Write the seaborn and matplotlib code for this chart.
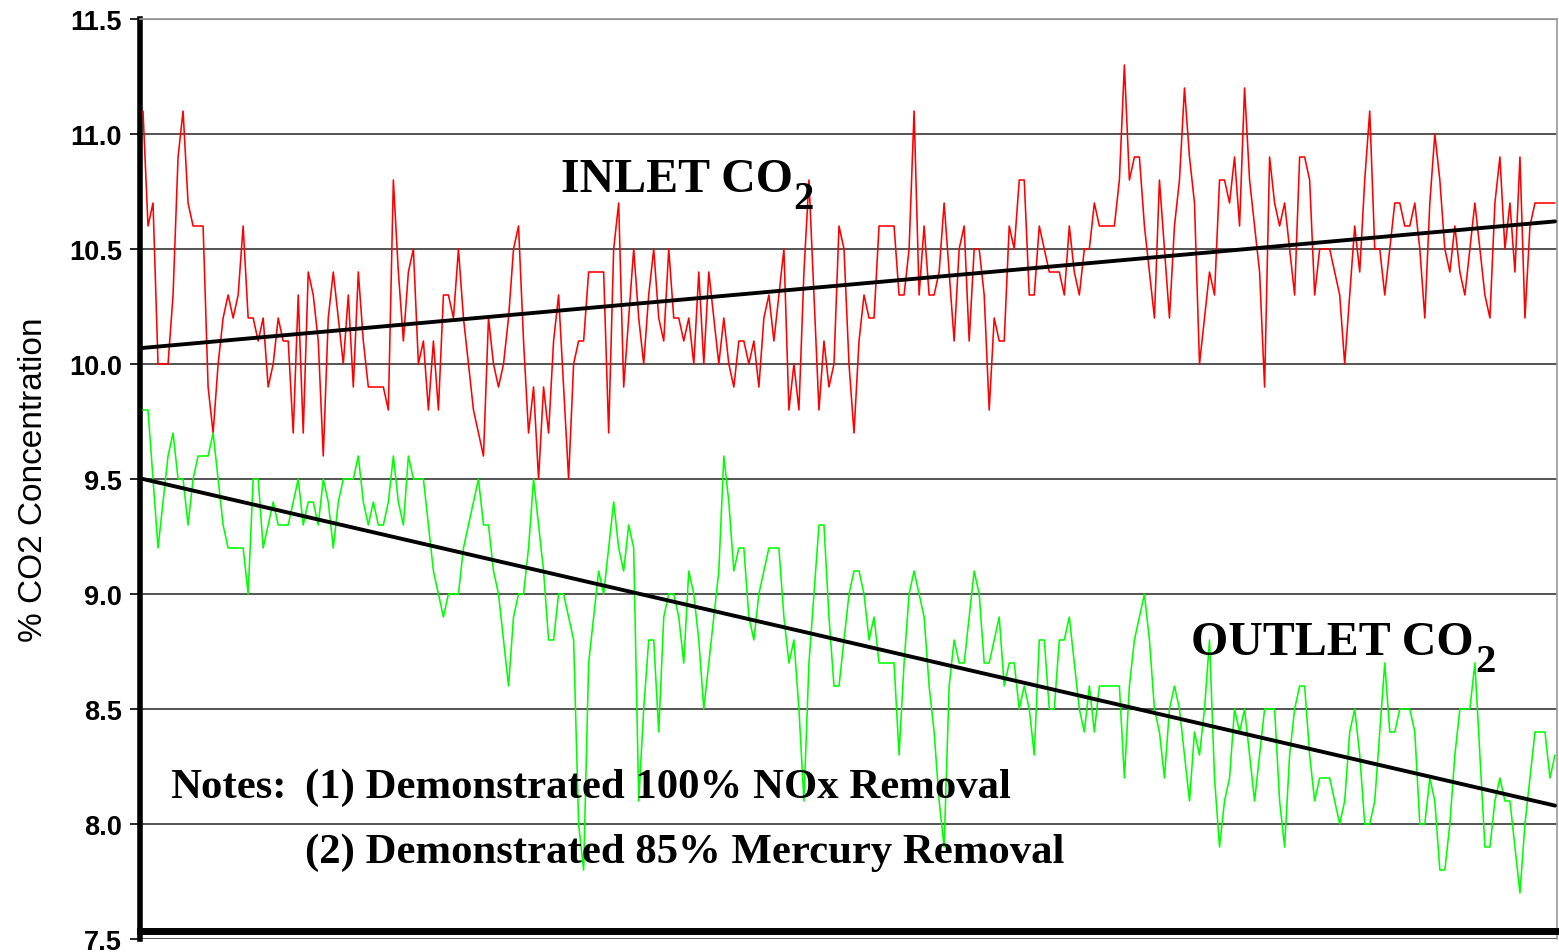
# inlet / outlet CO2 trace with linear trend lines
import numpy as np
import pandas as pd
import seaborn as sns
import matplotlib
matplotlib.use("Agg")
import matplotlib.pyplot as plt

# --- data (% CO2, one sample every ~5 px) ---
inlet_co2 = [
    11.1, 10.6, 10.7, 10.0, 10.0, 10.0, 10.3, 10.9, 11.1, 10.7,
    10.6, 10.6, 10.6, 9.9, 9.7, 10.0, 10.2, 10.3, 10.2, 10.3,
    10.6, 10.2, 10.2, 10.1, 10.2, 9.9, 10.0, 10.2, 10.1, 10.1,
    9.7, 10.3, 9.7, 10.4, 10.3, 10.1, 9.6, 10.2, 10.4, 10.2,
    10.0, 10.3, 9.9, 10.4, 10.1, 9.9, 9.9, 9.9, 9.9, 9.8,
    10.8, 10.4, 10.1, 10.4, 10.5, 10.0, 10.1, 9.8, 10.1, 9.8,
    10.3, 10.3, 10.2, 10.5, 10.2, 10.0, 9.8, 9.7, 9.6, 10.2,
    10.0,
    9.9, 10.0, 10.2, 10.5, 10.6, 10.1, 9.7, 9.9, 9.5, 9.9,
    9.7, 10.1, 10.3, 9.9, 9.5, 10.0, 10.1, 10.1, 10.4, 10.4,
    10.4, 10.4, 9.7, 10.5, 10.7, 9.9, 10.2, 10.5, 10.2, 10.0,
    10.3, 10.5, 10.2, 10.1, 10.5, 10.2, 10.2, 10.1, 10.2, 10.0,
    10.4, 10.0, 10.4, 10.2, 10.0, 10.2, 10.0, 9.9, 10.1, 10.1,
    10.0, 10.1, 9.9, 10.2, 10.3, 10.1, 10.3, 10.5, 9.8, 10.0,
    9.8, 10.4, 10.8, 10.3, 9.8, 10.1, 9.9, 10.0, 10.6, 10.5,
    10.0, 9.7, 10.1, 10.3, 10.2, 10.2, 10.6, 10.6, 10.6, 10.6,
    10.3, 10.3, 10.5, 11.1, 10.3, 10.6, 10.3, 10.3, 10.4, 10.7,
    10.4, 10.1, 10.5, 10.6, 10.1, 10.5, 10.5, 10.3, 9.8, 10.2,
    10.1, 10.1, 10.6, 10.5, 10.8, 10.8, 10.3, 10.3, 10.6, 10.5,
    10.4, 10.4, 10.4, 10.3, 10.6, 10.4, 10.3, 10.5, 10.5, 10.7,
    10.6, 10.6, 10.6, 10.6, 10.8, 11.3, 10.8, 10.9, 10.9, 10.6,
    10.4, 10.2, 10.8, 10.5, 10.2, 10.6, 10.8, 11.2, 10.9, 10.7,
    10.0,
    10.2, 10.4, 10.3, 10.8, 10.8, 10.7, 10.9, 10.6, 11.2, 10.8,
    10.6, 10.4, 9.9, 10.9, 10.7, 10.6, 10.7, 10.5, 10.3, 10.9,
    10.9, 10.8, 10.3, 10.5, 10.5, 10.5, 10.4, 10.3, 10.0, 10.3,
    10.6, 10.4, 10.8, 11.1, 10.5, 10.5, 10.3, 10.5, 10.7, 10.7,
    10.6, 10.6, 10.7, 10.5, 10.2, 10.7, 11.0, 10.8, 10.5, 10.4,
    10.6, 10.4, 10.3, 10.5, 10.7, 10.5, 10.3, 10.2, 10.7, 10.9,
    10.5, 10.7, 10.4, 10.9, 10.2, 10.6, 10.7, 10.7, 10.7, 10.7,
    10.7,
]

outlet_co2 = [
    9.8, 9.8, 9.5, 9.2, 9.4, 9.6, 9.7, 9.5, 9.5, 9.3,
    9.5, 9.6, 9.6, 9.6, 9.7, 9.5, 9.3, 9.2, 9.2, 9.2,
    9.2, 9.0, 9.5, 9.5, 9.2, 9.3, 9.4, 9.3, 9.3, 9.3,
    9.4, 9.5, 9.3, 9.4, 9.4, 9.3, 9.5, 9.4, 9.2, 9.4,
    9.5, 9.5, 9.5, 9.6, 9.4, 9.3, 9.4, 9.3, 9.3, 9.4,
    9.6, 9.4, 9.3, 9.6, 9.5, 9.5, 9.5, 9.3, 9.1, 9.0,
    8.9, 9.0, 9.0, 9.0, 9.2, 9.3, 9.4, 9.5, 9.3, 9.3,
    9.1,
    9.0, 8.8, 8.6, 8.9, 9.0, 9.0, 9.2, 9.5, 9.3, 9.1,
    8.8, 8.8, 9.0, 9.0, 8.9, 8.8, 8.0, 7.8, 8.7, 8.9,
    9.1, 9.0, 9.2, 9.4, 9.2, 9.1, 9.3, 9.2, 8.1, 8.5,
    8.8, 8.8, 8.4, 8.9, 9.0, 9.0, 8.9, 8.7, 9.1, 9.0,
    8.8, 8.5, 8.7, 8.9, 9.1, 9.6, 9.4, 9.1, 9.2, 9.2,
    8.9, 8.8, 9.0, 9.1, 9.2, 9.2, 9.2, 8.9, 8.7, 8.8,
    8.5, 8.1, 8.7, 9.0, 9.3, 9.3, 8.9, 8.6, 8.6, 8.8,
    9.0, 9.1, 9.1, 9.0, 8.8, 8.9, 8.7, 8.7, 8.7, 8.7,
    8.3, 8.7, 9.0, 9.1, 9.0, 8.9, 8.6, 8.4, 8.1, 7.9,
    8.6, 8.8, 8.7, 8.7, 8.9, 9.1, 9.0, 8.7, 8.7, 8.8,
    8.9, 8.6, 8.7, 8.7, 8.5, 8.6, 8.5, 8.3, 8.8, 8.8,
    8.5, 8.5, 8.8, 8.8, 8.9, 8.7, 8.5, 8.4, 8.6, 8.4,
    8.6, 8.6, 8.6, 8.6, 8.6, 8.2, 8.6, 8.8, 8.9, 9.0,
    8.8, 8.5, 8.4, 8.2, 8.5, 8.6, 8.5, 8.3, 8.1, 8.4,
    8.3,
    8.5, 8.8, 8.2, 7.9, 8.1, 8.2, 8.5, 8.4, 8.5, 8.3,
    8.1, 8.3, 8.5, 8.5, 8.5, 8.1, 7.9, 8.3, 8.5, 8.6,
    8.6, 8.3, 8.1, 8.2, 8.2, 8.2, 8.1, 8.0, 8.1, 8.4,
    8.5, 8.3, 8.0, 8.0, 8.1, 8.4, 8.7, 8.4, 8.4, 8.5,
    8.5, 8.5, 8.4, 8.0, 8.0, 8.2, 8.1, 7.8, 7.8, 8.0,
    8.3, 8.5, 8.5, 8.5, 8.7, 8.3, 7.9, 7.9, 8.1, 8.2,
    8.1, 8.1, 7.9, 7.7, 8.0, 8.2, 8.4, 8.4, 8.4, 8.2,
    8.3,
]

# trend line end values (first sample, last sample)
inlet_trend = [10.07, 10.62]
outlet_trend = [9.50, 8.08]

y_ticks = [7.5, 8.0, 8.5, 9.0, 9.5, 10.0, 10.5, 11.0, 11.5]

n = min(len(inlet_co2), len(outlet_co2))
df = pd.DataFrame({
    "sample": np.arange(n),
    "inlet": inlet_co2[:n],
    "outlet": outlet_co2[:n],
})
trend = pd.DataFrame({
    "sample": [0, n - 1],
    "inlet": inlet_trend,
    "outlet": outlet_trend,
})

sns.set_style("white")
plt.rcParams["font.family"] = ["Liberation Sans", "DejaVu Sans"]
plt.rcParams["text.color"] = "black"
plt.rcParams["axes.labelcolor"] = "black"
plt.rcParams["ytick.color"] = "black"

fig = plt.figure(figsize=(15.59, 9.53), dpi=100)
ax = fig.add_axes([140 / 1559, 13 / 953, 1417 / 1559, 920 / 953])

# grid lines first so the traces sit on top
for yv in y_ticks:
    ax.axhline(yv, color="#262626", linewidth=1.1, zorder=1)

sns.lineplot(data=df, x="sample", y="inlet", color="#ff0000",
             linewidth=1.15, estimator=None, ax=ax, zorder=3)
sns.lineplot(data=df, x="sample", y="outlet", color="#00ff00",
             linewidth=1.15, estimator=None, ax=ax, zorder=3)
sns.lineplot(data=trend, x="sample", y="inlet", color="black",
             linewidth=2.8, estimator=None, ax=ax, zorder=4)
sns.lineplot(data=trend, x="sample", y="outlet", color="black",
             linewidth=2.8, estimator=None, ax=ax, zorder=4)

ax.set_xlim(-0.6, n - 1 + 0.4)
ax.set_ylim(7.5, 11.5)
ax.set_yticks(y_ticks)
ax.set_yticklabels([f"{v:.1f}" for v in y_ticks], fontsize=19.5,
                   fontweight="bold")
ax.set_xticks([])
ax.set_xlabel("")
ax.set_ylabel("% CO2 Concentration", fontsize=24, labelpad=14)
ax.tick_params(axis="y", direction="out", length=7, width=1.2,
               color="black", pad=6, left=True)

# thick black left/bottom axis, thin grey frame elsewhere
ax.spines["left"].set_linewidth(4)
ax.spines["left"].set_color("black")
ax.spines["bottom"].set_linewidth(5)
ax.spines["bottom"].set_color("black")
ax.spines["bottom"].set_position(("data", 7.535))
for side in ["top", "right"]:
    ax.spines[side].set_linewidth(1.2)
    ax.spines[side].set_color("#9a9a9a")

serif = ["Liberation Serif", "DejaVu Serif"]


def label_with_sub(x, y, main, sub, size):
    t = ax.text(x, y, main, fontsize=size, fontweight="bold",
                family=serif, va="baseline", ha="left", zorder=5)
    ax.annotate(sub, xy=(1, 0), xycoords=t, xytext=(1, -7),
                textcoords="offset pixels", fontsize=size * 0.85,
                fontweight="bold", family=serif, va="baseline",
                ha="left", zorder=5)


label_with_sub(83.4, 10.752, "INLET CO", "2", 34.5)
label_with_sub(209.4, 8.739, "OUTLET CO", "2", 34.5)

note_style = dict(fontsize=30.8, fontweight="bold", family=serif,
                  va="baseline", ha="left", zorder=5)
ax.text(5.4, 8.117, "Notes:", **note_style)
ax.text(32.4, 8.117, "(1) Demonstrated 100% NOx Removal", **note_style)
ax.text(32.4, 7.835, "(2) Demonstrated 85% Mercury Removal", **note_style)

fig.savefig("out.png", dpi=100)
